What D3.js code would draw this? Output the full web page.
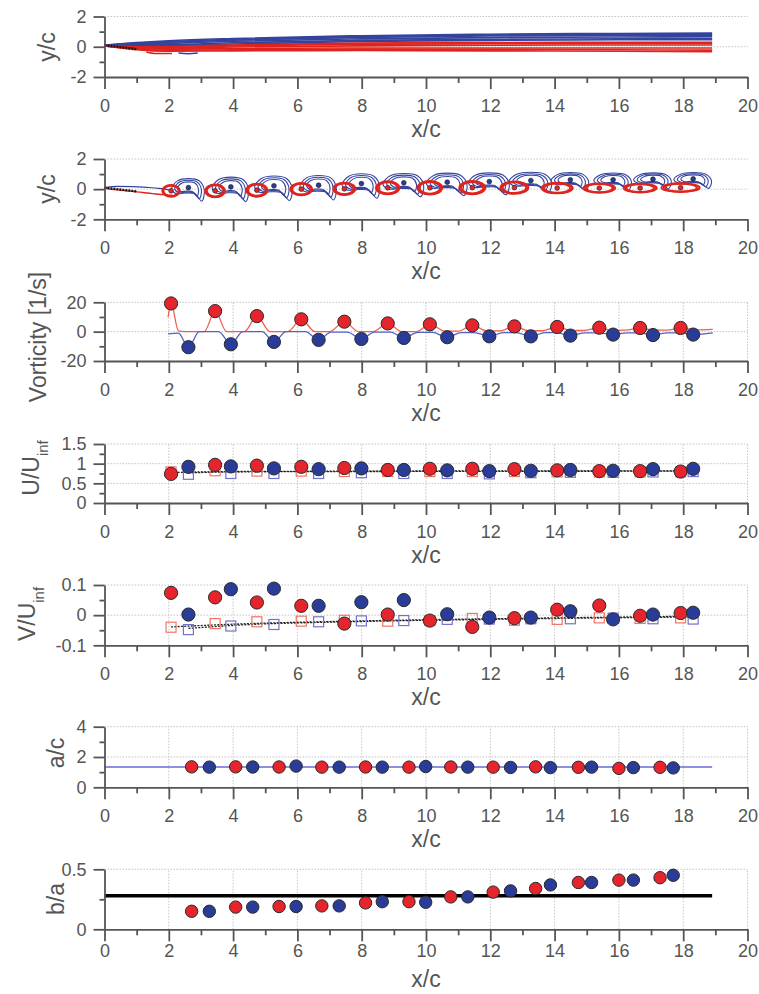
<!DOCTYPE html>
<html>
<head>
<meta charset="utf-8">
<script src="https://cdn.jsdelivr.net/npm/d3@7/dist/d3.min.js"></script>
<style>
  html,body{margin:0;padding:0;background:#fff;}
  svg{display:block;}
</style>
</head>
<body>
<svg id="chart" width="759" height="994"></svg>
<script>
// ---------- axis ticks ----------
const xMajorTicks = [0, 2, 4, 6, 8, 10, 12, 14, 16, 18, 20];
const xMinorTicks = [1, 3, 5, 7, 9, 11, 13, 15, 17, 19];

// ---------- time-averaged wake (streaklines, y/c at stations streakX) ----------
const streakX = [0, 0.5, 1, 2, 4, 8, 12, 16, 18.9];
const upperStreak1 = [0.10, 0.20, 0.28, 0.40, 0.55, 0.73, 0.83, 0.88, 0.90];
const upperStreak2 = [0.10, 0.18, 0.25, 0.35, 0.50, 0.68, 0.77, 0.81, 0.83];
const upperStreak3 = [0.10, 0.16, 0.22, 0.30, 0.44, 0.62, 0.71, 0.75, 0.77];
const upperStreak4 = [0.10, 0.14, 0.18, 0.22, 0.36, 0.52, 0.60, 0.64, 0.66];
const upperStreak5 = [0.10, 0.12, 0.14, 0.14, 0.26, 0.42, 0.49, 0.53, 0.55];
const upperStreak6 = [0.10, 0.11, 0.11, 0.08, 0.18, 0.35, 0.42, 0.46, 0.47];
const lowerStreak1 = [0.05, 0.02, 0.00, 0.02, 0.12, 0.24, 0.28, 0.30, 0.30];
const lowerStreak2 = [0.05, 0.00, -0.04, -0.04, 0.06, 0.16, 0.20, 0.21, 0.21];
const lowerStreak3 = [0.05, -0.02, -0.08, -0.10, -0.02, 0.06, 0.10, 0.12, 0.12];
const lowerStreak4 = [0.05, -0.04, -0.12, -0.16, -0.12, -0.08, -0.08, -0.08, -0.08];
const lowerStreak5 = [0.05, -0.06, -0.16, -0.24, -0.20, -0.16, -0.17, -0.20, -0.22];
const lowerStreak6 = [0.05, -0.08, -0.20, -0.30, -0.27, -0.25, -0.27, -0.30, -0.32];
// short detached filaments below the trailing edge
const lowerBlobX = [1.3, 1.6, 2.1], lowerBlobY = [-0.35, -0.45, -0.45];
const upperBlobX = [2.3, 2.6, 2.9], upperBlobY = [-0.42, -0.46, -0.42];
// plate chord
const plateX = [0, 1], plateY = [0.10, -0.15];

// ---------- instantaneous wake: shear layers leaving the plate ----------
const shearUpperX = [0, 0.4, 0.9, 1.3, 1.7, 2.0];
const shearUpperY = [0.10, 0.18, 0.17, 0.12, 0.05, -0.05];
const shearLowerX = [0, 0.5, 1.0, 1.5, 1.9, 2.1];
const shearLowerY = [0.05, -0.08, -0.18, -0.30, -0.38, -0.40];

// ---------- vortex cores (positive = red, negative = blue) ----------
const posCoreX = [2.07, 3.44, 4.74, 6.12, 7.46, 8.81, 10.12, 11.44, 12.75, 14.08, 15.39, 16.66, 17.92];
const posCoreY = [-0.11, -0.11, -0.07, 0.00, 0.02, 0.09, 0.09, 0.10, 0.10, 0.07, 0.07, 0.07, 0.10];
const posCoreRx = [0.28, 0.31, 0.33, 0.34, 0.35, 0.37, 0.39, 0.41, 0.44, 0.49, 0.50, 0.52, 0.60];
const posCoreRy = [0.40, 0.44, 0.44, 0.42, 0.42, 0.44, 0.46, 0.45, 0.42, 0.36, 0.32, 0.30, 0.30];
const negCoreX = [2.61, 3.93, 5.27, 6.66, 7.99, 9.31, 10.66, 11.97, 13.26, 14.49, 15.82, 17.06, 18.31];
const negCoreY = [0.10, 0.15, 0.22, 0.26, 0.37, 0.42, 0.46, 0.50, 0.57, 0.62, 0.62, 0.66, 0.68];
const negCoreRx = [0.52, 0.58, 0.60, 0.58, 0.60, 0.65, 0.65, 0.65, 0.68, 0.60, 0.60, 0.60, 0.60];
const negCoreRy = [0.60, 0.65, 0.65, 0.65, 0.65, 0.62, 0.60, 0.58, 0.55, 0.48, 0.45, 0.42, 0.42];

// ---------- peak vorticity [1/s] ----------
const posPeakVort = [19.2, 14.0, 10.6, 8.4, 6.8, 5.6, 5.0, 4.3, 3.6, 3.2, 2.7, 2.5, 2.5];
const negPeakVort = [-10.6, -8.6, -7.0, -5.6, -5.0, -4.3, -3.8, -3.2, -3.2, -2.7, -2.0, -2.3, -2.0];
// vorticity along the core paths
const posVortLineX = [1.98, 2.07, 2.3, 2.5, 3.1, 3.44, 3.8, 4.35, 4.74, 5.15, 5.7, 6.12, 6.55, 7.0, 7.46, 7.9, 8.35, 8.81, 9.25, 9.7, 10.12, 10.6, 11.0, 11.44, 11.9, 12.3, 12.75, 13.2, 13.6, 14.08, 14.5, 14.9, 15.39, 15.8, 16.2, 16.66, 17.1, 17.5, 17.92, 18.4, 18.92];
const posVortLineW = [10, 19.2, 0.5, 0, 0, 14.0, 0, 0, 10.6, 0, 0, 8.4, 0, 0, 6.8, 0, 0, 5.6, 0, 0, 5.0, 0.3, 0.3, 4.3, 0.5, 0.5, 3.6, 0.6, 0.6, 3.2, 0.8, 0.8, 2.7, 0.9, 1.0, 2.5, 1.0, 1.0, 2.5, 1.2, 1.5];
const negVortLineX = [1.98, 2.3, 2.61, 2.95, 3.55, 3.93, 4.3, 4.9, 5.27, 5.65, 6.25, 6.66, 7.05, 7.55, 7.99, 8.4, 8.9, 9.31, 9.75, 10.2, 10.66, 11.1, 11.5, 11.97, 12.4, 12.8, 13.26, 13.7, 14.05, 14.49, 14.95, 15.35, 15.82, 16.25, 16.6, 17.06, 17.5, 17.9, 18.31, 18.92];
const negVortLineW = [-1.5, -1.0, -10.6, 0, 0, -8.6, 0, 0, -7.0, 0, 0, -5.6, -0.3, -0.3, -5.0, -0.3, -0.3, -4.3, -0.5, -0.5, -3.8, -0.6, -0.6, -3.2, -0.7, -0.7, -3.2, -0.7, -0.7, -2.7, -0.8, -0.8, -2.0, -0.8, -0.8, -2.3, -0.8, -0.8, -2.0, -0.8];

// ---------- core velocity U/Uinf ----------
const posCoreU = [0.74, 0.97, 0.95, 0.92, 0.89, 0.84, 0.87, 0.87, 0.86, 0.83, 0.81, 0.81, 0.80];
const negCoreU = [0.92, 0.93, 0.88, 0.86, 0.88, 0.84, 0.83, 0.81, 0.82, 0.84, 0.82, 0.86, 0.87];
const posConvU = [0.79, 0.82, 0.81, 0.81, 0.80, 0.80, 0.80, 0.80, 0.80, 0.79, 0.79, 0.79, 0.79];
const negConvU = [0.73, 0.75, 0.75, 0.75, 0.77, 0.75, 0.75, 0.74, 0.77, 0.78, 0.78, 0.79, 0.80];
const posFitUX = [2.07, 4, 8, 12, 17.92], posFitU = [0.775, 0.80, 0.81, 0.815, 0.815];
const negFitUX = [2.61, 4, 8, 12, 18.31], negFitU = [0.765, 0.79, 0.80, 0.805, 0.81];

// ---------- core velocity V/Uinf ----------
const posCoreV = [0.074, 0.059, 0.042, 0.031, -0.028, 0.002, -0.018, -0.039, -0.010, 0.018, 0.032, -0.002, 0.007];
const negCoreV = [0.002, 0.086, 0.088, 0.031, 0.043, 0.050, 0.003, -0.008, -0.008, 0.013, -0.014, 0.002, 0.008];
const posConvV = [-0.040, -0.028, -0.022, -0.020, -0.017, -0.020, -0.018, -0.011, -0.017, -0.014, -0.009, -0.011, -0.009];
const negConvV = [-0.048, -0.036, -0.031, -0.022, -0.019, -0.018, -0.014, -0.013, -0.012, -0.012, -0.010, -0.012, -0.013];
const posFitVX = [2.07, 4, 8, 12, 17.92], posFitV = [-0.039, -0.030, -0.019, -0.012, -0.004];
const negFitVX = [2.61, 4, 8, 12, 18.31], negFitV = [-0.044, -0.034, -0.021, -0.014, -0.006];

// ---------- core size a/c and aspect ratio b/a ----------
const posShapeX = [2.71, 4.08, 5.43, 6.76, 8.12, 9.47, 10.77, 12.09, 13.41, 14.74, 16.00, 17.28];
const negShapeX = [3.26, 4.61, 5.96, 7.30, 8.64, 9.99, 11.30, 12.63, 13.87, 15.15, 16.45, 17.69];
const posA = [1.35, 1.35, 1.34, 1.33, 1.34, 1.33, 1.34, 1.33, 1.35, 1.32, 1.25, 1.32];
const negA = [1.33, 1.34, 1.40, 1.33, 1.33, 1.37, 1.33, 1.31, 1.30, 1.33, 1.30, 1.28];
const meanA = 1.34, meanAX = [0, 18.9];
const posB = [0.15, 0.185, 0.19, 0.195, 0.22, 0.23, 0.27, 0.31, 0.34, 0.39, 0.41, 0.43];
const negB = [0.15, 0.185, 0.19, 0.195, 0.23, 0.225, 0.27, 0.32, 0.37, 0.39, 0.41, 0.45];
const refB = 0.28, refBX = [0, 18.9];

// ---------- styling ----------
const FONT = '"Liberation Sans", Arial, Helvetica, sans-serif';
const AXIS = "#555";
const RED = "#e5242b", BLUE = "#283c98";
const RED_LINE = "#f0604e", BLUE_LINE = "#5262c4";
const RED_SQ = "#f07464", BLUE_SQ = "#7072cc";
const RED_CONT = "#e0231d", BLUE_CONT = "#34449e";

const svg = d3.select("#chart");
const x = d3.scaleLinear().domain([0, 20]).range([104.5, 747.5]);

const panels = [
  { top: 16.5, bottom: 77, dom: [-2, 2], major: [-2, 0, 2], minor: [-1, 1], vgrid: false, title: "y/c", tx: 47, ty: 47 },
  { top: 159, bottom: 219.3, dom: [-2, 2], major: [-2, 0, 2], minor: [-1, 1], vgrid: false, title: "y/c", tx: 47, ty: 189 },
  { top: 302.3, bottom: 361, dom: [-20, 20], major: [-20, 0, 20], minor: [-10, 10], vgrid: true, title: "Vorticity [1/s]", tx: 38, ty: 337 },
  { top: 444, bottom: 503, dom: [0, 1.5], major: [0, 0.5, 1, 1.5], minor: [0.25, 0.75, 1.25], vgrid: true, title: "U/U", sub: "inf", tx: 31, ty: 468 },
  { top: 585, bottom: 645.3, dom: [-0.1, 0.1], major: [-0.1, 0, 0.1], minor: [-0.05, 0.05], vgrid: true, title: "V/U", sub: "inf", tx: 27, ty: 614 },
  { top: 726.7, bottom: 787.3, dom: [0, 4], major: [0, 2, 4], minor: [1, 3], vgrid: true, title: "a/c", tx: 56, ty: 753 },
  { top: 869.3, bottom: 929.3, dom: [0, 0.5], major: [0, 0.5], minor: [0.25], vgrid: true, title: "b/a", tx: 56, ty: 899, compact: true }
];

const ys = panels.map(p => d3.scaleLinear().domain(p.dom).range([p.bottom, p.top]));
const layers = panels.map(() => ({}));

// grid, then data layer, then axes
panels.forEach((p, i) => {
  const y = ys[i];
  const g = svg.append("g");
  const grid = g.append("g").attr("stroke", "#c4c4c4").attr("stroke-width", 1).attr("stroke-dasharray", "1.5,1.5");
  grid.selectAll("line.h").data(p.major.filter(v => v !== p.dom[0])).join("line")
    .attr("x1", x(0)).attr("x2", x(20)).attr("y1", d => y(d)).attr("y2", d => y(d));
  if (p.vgrid) {
    grid.selectAll("line.v").data(xMajorTicks.filter(v => v > 0)).join("line")
      .attr("x1", d => x(d)).attr("x2", d => x(d)).attr("y1", y(p.dom[0])).attr("y2", y(p.dom[1]));
  }
  layers[i].data = g.append("g");
  layers[i].axes = g.append("g");
});

function styleAxis(sel) {
  sel.attr("font-family", FONT).attr("font-size", 18);
  sel.selectAll("path,line").attr("stroke", AXIS).attr("stroke-width", 1.8);
  sel.selectAll("text").attr("fill", AXIS);
}

panels.forEach((p, i) => {
  const y = ys[i];
  const g = layers[i].axes;
  const pad = p.compact ? 3 : 10;
  g.append("g").attr("transform", `translate(0,${p.bottom})`)
    .call(d3.axisBottom(x).tickValues(xMinorTicks).tickSize(6).tickFormat(""))
    .call(s => s.select(".domain").remove()).call(styleAxis);
  g.append("g").attr("transform", `translate(0,${p.bottom})`)
    .call(d3.axisBottom(x).tickValues(xMajorTicks).tickSize(12).tickSizeOuter(0).tickPadding(pad).tickFormat(d => String(d)))
    .call(styleAxis);
  g.append("g").attr("transform", `translate(${x(0)},0)`)
    .call(d3.axisLeft(y).tickValues(p.minor).tickSize(5).tickFormat(""))
    .call(s => s.select(".domain").remove()).call(styleAxis);
  g.append("g").attr("transform", `translate(${x(0)},0)`)
    .call(d3.axisLeft(y).tickValues(p.major).tickSize(11).tickSizeOuter(0).tickPadding(7).tickFormat(d => String(d)))
    .call(styleAxis);

  // x title
  g.append("text").attr("x", x(10)).attr("y", p.bottom + (p.compact ? 58 : 60))
    .attr("text-anchor", "middle").attr("font-family", FONT).attr("font-size", 23).attr("fill", AXIS)
    .text("x/c");
  // y title
  const t = g.append("text").attr("transform", `translate(${p.tx},${p.ty}) rotate(-90)`)
    .attr("text-anchor", "middle").attr("font-family", FONT).attr("font-size", 23).attr("fill", AXIS);
  t.append("tspan").attr("dy", "0.35em").text(p.title);
  if (p.sub) t.append("tspan").attr("font-size", 15).attr("dy", 9).text(p.sub);
});

// ---------- panel 1: time-averaged streaklines ----------
(function () {
  const y = ys[0], g = layers[0].data;
  const line = d3.line().curve(d3.curveMonotoneX);
  const uppers = [upperStreak1, upperStreak2, upperStreak3, upperStreak4, upperStreak5, upperStreak6];
  const lowers = [lowerStreak1, lowerStreak2, lowerStreak3, lowerStreak4, lowerStreak5, lowerStreak6];
  g.selectAll("path.up").data(uppers).join("path")
    .attr("d", s => line(streakX.map((v, k) => [x(v), y(s[k])])))
    .attr("fill", "none").attr("stroke", BLUE_CONT).attr("stroke-width", 1.6);
  g.selectAll("path.lo").data(lowers).join("path")
    .attr("d", s => line(streakX.map((v, k) => [x(v), y(s[k])])))
    .attr("fill", "none").attr("stroke", RED_CONT).attr("stroke-width", 1.6);
  g.append("path").attr("d", line(lowerBlobX.map((v, k) => [x(v), y(lowerBlobY[k])])))
    .attr("fill", "none").attr("stroke", RED_CONT).attr("stroke-width", 1.5);
  g.append("path").attr("d", line(upperBlobX.map((v, k) => [x(v), y(upperBlobY[k])])))
    .attr("fill", "none").attr("stroke", BLUE_CONT).attr("stroke-width", 1.5);
  g.append("path").attr("d", d3.line()(plateX.map((v, k) => [x(v), y(plateY[k])])))
    .attr("fill", "none").attr("stroke", "#111").attr("stroke-width", 2.2).attr("stroke-dasharray", "2,1");
})();

// ---------- panel 2: instantaneous vortex street ----------
(function () {
  const y = ys[1], g = layers[1].data;
  const line = d3.line().curve(d3.curveMonotoneX);
  g.append("path").attr("d", line(shearUpperX.map((v, k) => [x(v), y(shearUpperY[k])])))
    .attr("fill", "none").attr("stroke", BLUE_CONT).attr("stroke-width", 1.2);
  g.append("path").attr("d", line(shearLowerX.map((v, k) => [x(v), y(shearLowerY[k])])))
    .attr("fill", "none").attr("stroke", RED_CONT).attr("stroke-width", 1.4);
  g.append("path").attr("d", d3.line()(plateX.map((v, k) => [x(v), y(plateY[k])])))
    .attr("fill", "none").attr("stroke", "#111").attr("stroke-width", 2.2).attr("stroke-dasharray", "2,1");

  // comma-shaped contour of a negative vortex (loop with a trailing filament), in units of its radii
  const comma = [[0.8, -1.5], [0.95, -0.3], [0.65, 0.75], [0, 1.0], [-0.65, 0.75], [-1.0, -0.1],
                 [-0.75, -0.65], [-0.15, -0.6], [0.4, -0.7]];
  const closed = d3.line().curve(d3.curveCatmullRomClosed.alpha(0.5));
  const negLevels = [1, 0.82, 0.64];
  negCoreX.forEach((cx, k) => {
    negLevels.forEach(s => {
      g.append("path")
        .attr("d", closed(comma.map(([u, w]) => [x(cx + u * negCoreRx[k] * s), y(negCoreY[k] + w * negCoreRy[k] * s)])))
        .attr("fill", "none").attr("stroke", BLUE_CONT).attr("stroke-width", 1.1);
    });
  });
  const posLevels = [1, 0.91, 0.82];
  posCoreX.forEach((cx, k) => {
    posLevels.forEach(s => {
      g.append("ellipse").attr("cx", x(cx)).attr("cy", y(posCoreY[k]))
        .attr("rx", (x(posCoreRx[k]) - x(0)) * s).attr("ry", (y(0) - y(posCoreRy[k])) * s)
        .attr("fill", "none").attr("stroke", RED_CONT).attr("stroke-width", 1.6);
    });
  });
  g.selectAll("circle.n").data(negCoreX).join("circle")
    .attr("cx", (d) => x(d)).attr("cy", (d, k) => y(negCoreY[k])).attr("r", 2.4)
    .attr("fill", BLUE).attr("stroke", "#1a1a1a").attr("stroke-width", 0.6);
  g.selectAll("circle.p").data(posCoreX).join("circle")
    .attr("cx", (d) => x(d)).attr("cy", (d, k) => y(posCoreY[k])).attr("r", 2.4)
    .attr("fill", RED).attr("stroke", "#1a1a1a").attr("stroke-width", 0.6);
})();

function dots(g, xs, vs, y, fill, r) {
  g.append("g").selectAll("circle").data(xs).join("circle")
    .attr("cx", d => x(d)).attr("cy", (d, k) => y(vs[k])).attr("r", r)
    .attr("fill", fill).attr("stroke", "#2a2a2a").attr("stroke-width", 1);
}
function squares(g, xs, vs, y, stroke) {
  const s = 10;
  g.append("g").selectAll("rect").data(xs).join("rect")
    .attr("x", d => x(d) - s / 2).attr("y", (d, k) => y(vs[k]) - s / 2).attr("width", s).attr("height", s)
    .attr("fill", "none").attr("stroke", stroke).attr("stroke-width", 1.2);
}
function trend(g, xs, vs, y) {
  g.append("path").attr("d", d3.line().curve(d3.curveMonotoneX)(xs.map((v, k) => [x(v), y(vs[k])])))
    .attr("fill", "none").attr("stroke", "#222").attr("stroke-width", 1.3).attr("stroke-dasharray", "2,1.3");
}

// ---------- panel 3: vorticity ----------
(function () {
  const y = ys[2], g = layers[2].data;
  const line = d3.line().curve(d3.curveMonotoneX);
  g.append("path").attr("d", line(posVortLineX.map((v, k) => [x(v), y(posVortLineW[k])])))
    .attr("fill", "none").attr("stroke", RED_LINE).attr("stroke-width", 1.3);
  g.append("path").attr("d", line(negVortLineX.map((v, k) => [x(v), y(negVortLineW[k])])))
    .attr("fill", "none").attr("stroke", BLUE_LINE).attr("stroke-width", 1.3);
  dots(g, posCoreX, posPeakVort, y, RED, 6.6);
  dots(g, negCoreX, negPeakVort, y, BLUE, 6.6);
})();

// ---------- panel 4: U/Uinf ----------
(function () {
  const y = ys[3], g = layers[3].data;
  trend(g, posFitUX, posFitU, y);
  trend(g, negFitUX, negFitU, y);
  squares(g, posCoreX, posConvU, y, RED_SQ);
  squares(g, negCoreX, negConvU, y, BLUE_SQ);
  dots(g, posCoreX, posCoreU, y, RED, 6.6);
  dots(g, negCoreX, negCoreU, y, BLUE, 6.6);
})();

// ---------- panel 5: V/Uinf ----------
(function () {
  const y = ys[4], g = layers[4].data;
  trend(g, posFitVX, posFitV, y);
  trend(g, negFitVX, negFitV, y);
  squares(g, posCoreX, posConvV, y, RED_SQ);
  squares(g, negCoreX, negConvV, y, BLUE_SQ);
  dots(g, posCoreX, posCoreV, y, RED, 6.6);
  dots(g, negCoreX, negCoreV, y, BLUE, 6.6);
})();

// ---------- panel 6: a/c ----------
(function () {
  const y = ys[5], g = layers[5].data;
  g.append("line").attr("x1", x(meanAX[0])).attr("x2", x(meanAX[1])).attr("y1", y(meanA)).attr("y2", y(meanA))
    .attr("stroke", "#6a6ad4").attr("stroke-width", 1.5);
  dots(g, posShapeX, posA, y, RED, 6.2);
  dots(g, negShapeX, negA, y, BLUE, 6.2);
})();

// ---------- panel 7: b/a ----------
(function () {
  const y = ys[6], g = layers[6].data;
  g.append("line").attr("x1", x(refBX[0])).attr("x2", x(refBX[1])).attr("y1", y(refB)).attr("y2", y(refB))
    .attr("stroke", "#000").attr("stroke-width", 3.5);
  dots(g, posShapeX, posB, y, RED, 6.2);
  dots(g, negShapeX, negB, y, BLUE, 6.2);
})();
</script>
</body>
</html>
